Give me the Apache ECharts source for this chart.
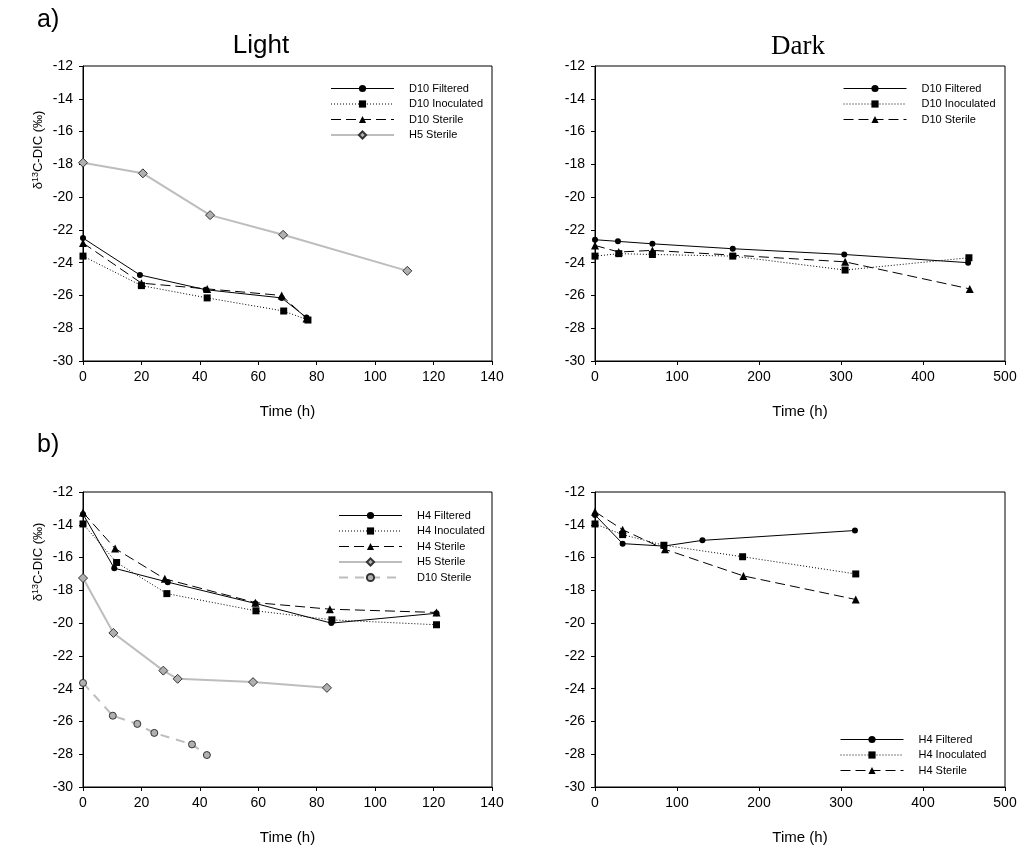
<!DOCTYPE html>
<html>
<head>
<meta charset="utf-8">
<script src="https://cdn.jsdelivr.net/npm/echarts@6/dist/echarts.min.js"></script>
<style>html,body{margin:0;padding:0;background:#fff}#c{width:1029px;height:847px}</style>
</head>
<body>
<div id="c"></div>
<script>
// ---- Tick labels / axes ----
const yTicks = [-30, -12, 2];          // min, max, interval
const lightX = [0, 140, 20];
const darkX = [0, 500, 100];

// ---- Panel a) Light ----
const aL_D10F_t = [0, 19.5, 42, 68, 76.5];
const aL_D10F_v = [-22.5, -24.75, -25.65, -26.15, -27.35];
const aL_D10I_t = [0, 20, 42.5, 68.7, 77];
const aL_D10I_v = [-23.6, -25.4, -26.15, -26.95, -27.5];
const aL_D10S_t = [0, 20, 42.5, 68, 76.5];
const aL_D10S_v = [-22.8, -25.25, -25.6, -26.0, -27.4];
const aL_H5S_t = [0, 20.5, 43.5, 68.5, 111];
const aL_H5S_v = [-17.9, -18.55, -21.1, -22.3, -24.5];

// ---- Panel a) Dark ----
const aD_D10F_t = [0, 28, 70, 168, 304, 455];
const aD_D10F_v = [-22.6, -22.7, -22.85, -23.15, -23.5, -24.0];
const aD_D10I_t = [0, 29, 70, 168, 305, 456];
const aD_D10I_v = [-23.6, -23.45, -23.5, -23.6, -24.45, -23.7];
const aD_D10S_t = [0, 29, 70, 305, 457];
const aD_D10S_v = [-22.95, -23.35, -23.25, -23.95, -25.6];

// ---- Panel b) Light ----
const bL_H4F_t = [0, 10.7, 29, 59, 85, 121];
const bL_H4F_v = [-13.35, -16.65, -17.5, -18.8, -20.0, -19.4];
const bL_H4I_t = [0, 11.5, 28.7, 59.2, 85.2, 121];
const bL_H4I_v = [-13.95, -16.3, -18.2, -19.25, -19.8, -20.1];
const bL_H4S_t = [0, 11, 28, 59, 84.5, 121];
const bL_H4S_v = [-13.25, -15.45, -17.3, -18.75, -19.15, -19.35];
const bL_H5S_t = [0, 10.4, 27.5, 32.4, 58.2, 83.5];
const bL_H5S_v = [-17.25, -20.6, -22.9, -23.4, -23.6, -23.95];
const bL_D10S_t = [0, 10.2, 18.6, 24.4, 37.3, 42.4];
const bL_D10S_v = [-23.65, -25.65, -26.15, -26.7, -27.4, -28.05];

// ---- Panel b) Dark ----
const bD_H4F_t = [0, 33.7, 84, 131, 317];
const bD_H4F_v = [-13.4, -15.15, -15.3, -14.95, -14.35];
const bD_H4I_t = [0, 33.7, 84, 180, 318];
const bD_H4I_v = [-13.95, -14.6, -15.25, -15.95, -17.0];
const bD_H4S_t = [0, 33.7, 85.4, 181, 318];
const bD_H4S_v = [-13.2, -14.3, -15.5, -17.12, -18.56];

const zip = (t, v) => t.map((x, i) => [x, v[i]]);
const FONT = 'Arial, "Liberation Sans", sans-serif';
const SERIF = '"Times New Roman", "Liberation Serif", serif';

const styles = {
  filt: { line: { color: '#000', width: 1, type: 'solid' }, symbol: 'circle', size: 6, item: { color: '#000' } },
  inoc: { line: { color: '#000', width: 1, type: [1, 2] }, symbol: 'rect', size: 7, item: { color: '#000' } },
  ster: { line: { color: '#000', width: 1, type: [10, 5] }, symbol: 'triangle', size: 8, item: { color: '#000' } },
  h5: { line: { color: '#bdbdbd', width: 2, type: 'solid' }, symbol: 'diamond', size: 9, item: { color: '#b0b0b0', borderColor: '#333', borderWidth: 1 } },
  gd: { line: { color: '#bdbdbd', width: 2, type: [9, 7] }, symbol: 'circle', size: 7, item: { color: '#b0b0b0', borderColor: '#333', borderWidth: 1 } }
};
const seriesStyle = {};

function mk(name, idx, t, v, st) {
  const s = styles[st];
  seriesStyle[name] = st;
  return {
    name: name, type: 'line', xAxisIndex: idx, yAxisIndex: idx,
    data: zip(t, v), symbol: s.symbol, symbolSize: s.size, showSymbol: true,
    lineStyle: s.line, itemStyle: s.item, animation: false, z: 3
  };
}

const series = [
  mk('aL|D10 Filtered', 0, aL_D10F_t, aL_D10F_v, 'filt'),
  mk('aL|D10 Inoculated', 0, aL_D10I_t, aL_D10I_v, 'inoc'),
  mk('aL|D10 Sterile', 0, aL_D10S_t, aL_D10S_v, 'ster'),
  mk('aL|H5 Sterile', 0, aL_H5S_t, aL_H5S_v, 'h5'),
  mk('aD|D10 Filtered', 1, aD_D10F_t, aD_D10F_v, 'filt'),
  mk('aD|D10 Inoculated', 1, aD_D10I_t, aD_D10I_v, 'inoc'),
  mk('aD|D10 Sterile', 1, aD_D10S_t, aD_D10S_v, 'ster'),
  mk('bL|H4 Filtered', 2, bL_H4F_t, bL_H4F_v, 'filt'),
  mk('bL|H4 Inoculated', 2, bL_H4I_t, bL_H4I_v, 'inoc'),
  mk('bL|H4 Sterile', 2, bL_H4S_t, bL_H4S_v, 'ster'),
  mk('bL|H5 Sterile', 2, bL_H5S_t, bL_H5S_v, 'h5'),
  mk('bL|D10 Sterile', 2, bL_D10S_t, bL_D10S_v, 'gd'),
  mk('bD|H4 Filtered', 3, bD_H4F_t, bD_H4F_v, 'filt'),
  mk('bD|H4 Inoculated', 3, bD_H4I_t, bD_H4I_v, 'inoc'),
  mk('bD|H4 Sterile', 3, bD_H4S_t, bD_H4S_v, 'ster')
];

const grids = [
  { left: 83, top: 66, width: 409, height: 295 },
  { left: 595, top: 66, width: 410, height: 295 },
  { left: 83, top: 492, width: 409, height: 295 },
  { left: 595, top: 492, width: 410, height: 295 }
].map(g => Object.assign(g, { show: true, borderColor: '#000', borderWidth: 1, backgroundColor: 'transparent' }));

function xAx(i, r) {
  return {
    gridIndex: i, type: 'value', min: r[0], max: r[1], interval: r[2],
    name: 'Time (h)', nameLocation: 'middle', nameGap: 43,
    nameTextStyle: { fontFamily: FONT, fontSize: 15, color: '#000' },
    axisLine: { onZero: false, lineStyle: { color: '#000', width: 1 } },
    axisTick: { show: true, inside: false, length: 4, lineStyle: { color: '#000' } },
    axisLabel: { fontFamily: FONT, fontSize: 14, color: '#000', margin: 9 },
    splitLine: { show: false }
  };
}
function yAx(i) {
  return {
    gridIndex: i, type: 'value', min: yTicks[0], max: yTicks[1], interval: yTicks[2],
    axisLine: { onZero: false, lineStyle: { color: '#000', width: 1 } },
    axisTick: { show: true, inside: false, length: 4, lineStyle: { color: '#000' } },
    axisLabel: { fontFamily: FONT, fontSize: 14, color: '#000', margin: 10 },
    splitLine: { show: false }
  };
}

function lg(prefix, names, left, top) {
  return {
    data: names.map(n => {
      const key = prefix + '|' + n;
      const s = styles[seriesStyle[key]];
      return { name: key, lineStyle: { width: s.line.width } };
    }),
    orient: 'vertical', left: left, top: top,
    itemWidth: 63, itemHeight: 9, itemGap: 4.5,
    selectedMode: false,
    formatter: n => n.split('|')[1],
    textStyle: { fontFamily: FONT, fontSize: 11, color: '#000', padding: [0, 0, 0, 10], lineHeight: 10 }
  };
}

const yName = '{a|δ}{s|13}{a|C-DIC (‰)}';
const yRich = { a: { fontFamily: FONT, fontSize: 13, fill: '#000' }, s: { fontFamily: FONT, fontSize: 9, fill: '#000', verticalAlign: 'top' } };

const option = {
  backgroundColor: '#fff',
  animation: false,
  grid: grids,
  xAxis: [xAx(0, lightX), xAx(1, darkX), xAx(2, lightX), xAx(3, darkX)],
  yAxis: [yAx(0), yAx(1), yAx(2), yAx(3)],
  legend: [
    lg('aL', ['D10 Filtered', 'D10 Inoculated', 'D10 Sterile', 'H5 Sterile'], 325, 78),
    lg('aD', ['D10 Filtered', 'D10 Inoculated', 'D10 Sterile'], 838, 78),
    lg('bL', ['H4 Filtered', 'H4 Inoculated', 'H4 Sterile', 'H5 Sterile', 'D10 Sterile'], 333, 505),
    lg('bD', ['H4 Filtered', 'H4 Inoculated', 'H4 Sterile'], 835, 729)
  ],
  graphic: [
    { type: 'text', left: 37, top: 8, style: { text: 'a)', font: '25px ' + FONT, fill: '#000' } },
    { type: 'text', left: 37, top: 433, style: { text: 'b)', font: '25px ' + FONT, fill: '#000' } },
    { type: 'text', x: 261, y: 46, style: { text: 'Light', font: '26px ' + FONT, fill: '#000', align: 'center', verticalAlign: 'middle' } },
    { type: 'text', x: 798, y: 47, style: { text: 'Dark', font: '27px ' + SERIF, fill: '#000', align: 'center', verticalAlign: 'middle' } },
    { type: 'text', x: 38, y: 150, rotation: Math.PI / 2, style: { text: yName, rich: yRich, font: '13px ' + FONT, fill: '#000', align: 'center', verticalAlign: 'middle' } },
    { type: 'text', x: 38, y: 562, rotation: Math.PI / 2, style: { text: yName, rich: yRich, font: '13px ' + FONT, fill: '#000', align: 'center', verticalAlign: 'middle' } }
  ],
  series: series
};

const chart = echarts.init(document.getElementById('c'), null, { renderer: 'canvas' });
chart.setOption(option);
</script>
</body>
</html>
